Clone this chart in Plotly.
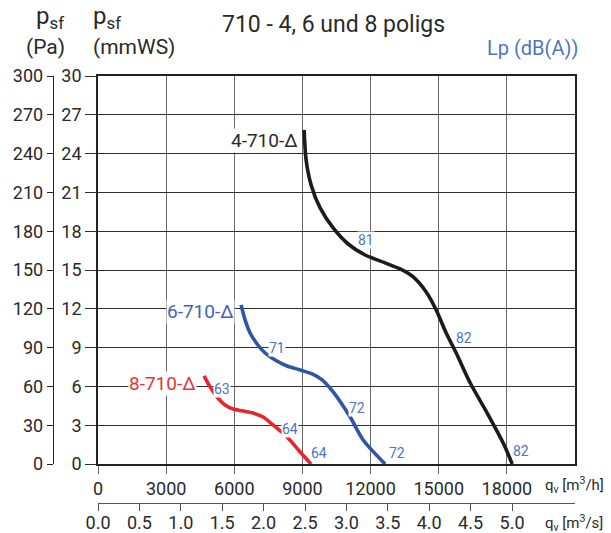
import plotly.graph_objects as go

# Fan characteristic curves, flow in m³/h, static pressure in mmWS
q_4pole = [9074, 9162, 9383, 9779, 10352, 11013, 11761, 12642, 13303, 13876,
           14448, 14889, 15329, 15770, 16387, 17135, 17840, 18237]
p_4pole = [25.83, 23.51, 21.58, 19.80, 18.25, 17.01, 16.16, 15.55, 15.08, 14.46,
           13.30, 11.91, 10.13, 8.58, 6.26, 3.94, 1.62, 0.0]

q_6pole = [6299, 6475, 6696, 7004, 7357, 7797, 8326, 8898, 9427, 9867,
           10352, 11101, 11674, 12643]
p_6pole = [12.30, 11.14, 10.13, 9.28, 8.58, 8.04, 7.58, 7.27, 6.96, 6.50,
           5.57, 3.63, 1.86, 0.0]

q_8pole = [4669, 4934, 5242, 5594, 5947, 6387, 6828, 7268, 7709, 8325, 8898, 9383]
p_8pole = [6.81, 5.96, 5.18, 4.56, 4.25, 4.10, 3.94, 3.63, 3.02, 2.09, 0.93, 0.0]

# Sound pressure level labels (dB(A)) and where they sit
lp_text = ["81", "82", "82", "71", "72", "72", "63", "64", "64"]
lp_q = [11805, 16122, 18633, 7885, 11409, 13171, 5462, 8458, 9735]
lp_p = [17.32, 9.74, 1.00, 8.97, 4.33, 0.85, 5.80, 2.71, 0.85]

curve_names = ["4-710-Δ", "6-710-Δ", "8-710-Δ"]
name_q = [8854, 6035, 4361]
name_p = [25.05, 11.83, 6.19]

# Axis ticks
q_h_ticks = [0, 3000, 6000, 9000, 12000, 15000, 18000]
q_s_ticks = [0.0, 0.5, 1.0, 1.5, 2.0, 2.5, 3.0, 3.5, 4.0, 4.5, 5.0]
mmws_ticks = [0, 3, 6, 9, 12, 15, 18, 21, 24, 27, 30]
pa_ticks = [0, 30, 60, 90, 120, 150, 180, 210, 240, 270, 300]

W, H = 611, 533
FONT = "Roboto"
TXT = "#2a2a2a"
LP_BLUE = "#4f73c2"
colors = ["#1b1b1b", "#2d56a7", "#e7262e"]
name_colors = ["#2a2a2a", "#3e64b6", "#e8333a"]

fig = go.Figure()

for q, p, c in [(q_4pole, p_4pole, colors[0]),
                (q_6pole, p_6pole, colors[1]),
                (q_8pole, p_8pole, colors[2])]:
    fig.add_trace(go.Scatter(x=q, y=p, mode="lines",
                             line=dict(color=c, width=3.6, shape="spline", smoothing=0.8),
                             showlegend=False, hoverinfo="skip"))

# placeholder traces so the secondary axes are drawn
fig.add_trace(go.Scatter(x=[None], y=[None], xaxis="x", yaxis="y2",
                         showlegend=False, hoverinfo="skip"))
fig.add_trace(go.Scatter(x=[None], y=[None], xaxis="x2", yaxis="y",
                         showlegend=False, hoverinfo="skip"))

x0, x1 = 98 / W, 575 / W
y0, y1 = 1 - 464 / H, 1 - 76 / H

fig.update_layout(
    width=W, height=H,
    margin=dict(l=0, r=0, t=0, b=0),
    paper_bgcolor="white", plot_bgcolor="white",
    font=dict(family=FONT, color=TXT),
    xaxis=dict(domain=[x0, x1], range=[0, 21000], tickvals=q_h_ticks,
               ticktext=[str(v) for v in q_h_ticks], automargin=False,
               showgrid=True, gridcolor="#6a6a6a", gridwidth=1.4,
               showline=True, linecolor="#222", linewidth=1.6, mirror=True,
               ticks="outside", ticklen=8, tickcolor="#6a6a6a", tickwidth=1.4,
               tickfont=dict(size=18, color=TXT), zeroline=False),
    xaxis2=dict(overlaying="x", anchor="free", position=1 - 503 / H,
                range=[0, 477 / 82.8], tickvals=q_s_ticks, automargin=False,
                ticktext=[f"{v:.1f}" for v in q_s_ticks],
                showgrid=False, showline=True, linecolor="#555", linewidth=1.3,
                ticks="outside", ticklen=7, tickcolor="#555", tickwidth=1.3,
                ticklabelstandoff=-4,
                tickfont=dict(size=18, color=TXT), zeroline=False, side="bottom"),
    yaxis=dict(domain=[y0, y1], range=[0, 30], tickvals=mmws_ticks,
               ticktext=[str(v) for v in mmws_ticks], automargin=False,
               showgrid=True, gridcolor="#2e2e2e", gridwidth=1.4,
               showline=True, linecolor="#222", linewidth=1.6, mirror=True,
               ticks="outside", ticklen=11, tickcolor="#2e2e2e", tickwidth=1.4,
               tickfont=dict(size=18, color=TXT), zeroline=False),
    yaxis2=dict(overlaying="y", anchor="free", position=53 / W, side="left",
                range=[0, 300], tickvals=pa_ticks, automargin=False,
                ticktext=[str(v) for v in pa_ticks],
                showgrid=False, showline=True, linecolor="#222", linewidth=1.4,
                ticks="outside", ticklen=6, tickcolor="#222", tickwidth=1.4,
                tickfont=dict(size=18, color=TXT), zeroline=False),
)

# dB(A) labels along the curves
for t, q, p in zip(lp_text, lp_q, lp_p):
    fig.add_annotation(x=q, y=p, xref="x", yref="y", text=t, showarrow=False,
                       font=dict(size=14, color=LP_BLUE, family=FONT),
                       bgcolor="white", borderpad=0, xanchor="center", yanchor="middle")

# curve names
for t, q, p, c in zip(curve_names, name_q, name_p, name_colors):
    fig.add_annotation(x=q, y=p, xref="x", yref="y", text=t, showarrow=False,
                       font=dict(size=19, color=c, family=FONT),
                       bgcolor="white", borderpad=0, xanchor="right", yanchor="middle")

def paper_text(px, py, text, size, color=TXT, anchor="left"):
    fig.add_annotation(x=px / W, y=1 - py / H, xref="paper", yref="paper",
                       text=text, showarrow=False, xanchor=anchor, yanchor="middle",
                       font=dict(size=size, color=color, family=FONT))

paper_text(220, 25, "710 - 4, 6 und 8 poligs", 23)
paper_text(485, 48, "Lp (dB(A))", 20, LP_BLUE)
paper_text(34, 17, "p<sub>sf</sub>", 24)
paper_text(24, 47, "(Pa)", 21)
paper_text(91, 17, "p<sub>sf</sub>", 24)
paper_text(91, 47, "(mmWS)", 21)
paper_text(543, 485, "q<sub>v</sub> [m<sup>3</sup>/h]", 15)
paper_text(543, 523, "q<sub>v</sub> [m<sup>3</sup>/s]", 15)

fig.write_html("out.html")
